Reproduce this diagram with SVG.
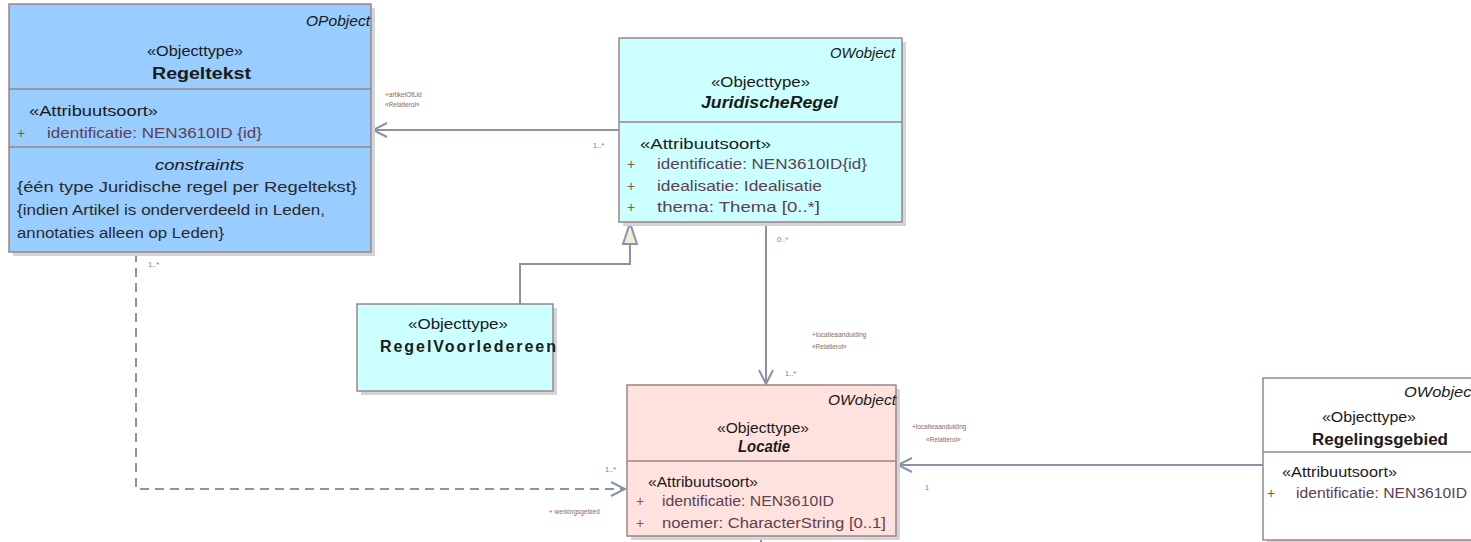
<svg xmlns="http://www.w3.org/2000/svg" width="1471" height="542" viewBox="0 0 1471 542">
<style>
text{font-family:"Liberation Sans",Arial,sans-serif;fill:#1a1a1a}
.box{stroke:#9b8585;stroke-width:1.5}
.shadow{fill:#d4d4d4}
.div{stroke:#9b8585;stroke-width:1.5}
.st{font-size:14px}
.nm{font-size:16px;font-weight:bold}
.tag{font-size:14px;font-style:italic}
.at{font-size:14px;fill:#5c4150}
.pl{font-size:14px;fill:#8a5a3a}
.ct{font-size:14px;fill:#2a2a2a}
.con{stroke:#8b93a8;stroke-width:2;fill:none}
.lbl{font-size:6.5px;fill:#8a6a5a}
.mul{font-size:7.5px;fill:#b07050}
</style>
<g id="connectors">
<line class="con" x1="619" y1="130" x2="373" y2="130"/>
<polyline class="con" points="387,123 373,130 387,137"/>
<polyline class="con" points="520,304 520,264 630,264 630,244"/>
<polygon points="630,223 623,244 637,244" fill="#f5ead8" stroke="#8b93a8" stroke-width="2"/>
<line class="con" x1="766" y1="222" x2="766" y2="384"/>
<polyline class="con" points="759,370 766,384 773,370"/>
<line class="con" x1="1263" y1="465" x2="898" y2="465"/>
<polyline class="con" points="912,458 898,465 912,472"/>
<polyline class="con" points="136,253 136,489 625,489" stroke-dasharray="9,6"/>
<polyline class="con" points="611,482 625,489 611,496"/>
<line class="con" x1="761" y1="536" x2="761" y2="542"/>
<text class="lbl" x="385" y="97">+artikelOfLid</text>
<text class="lbl" x="385" y="107">«Relatierol»</text>
<text class="mul" x="593" y="148">1..*</text>
<text class="mul" x="777" y="242">0..*</text>
<text class="lbl" x="812" y="337">+locatieaanduiding</text>
<text class="lbl" x="812" y="349">«Relatierol»</text>
<text class="mul" x="785" y="376">1..*</text>
<text class="lbl" x="912" y="429">+locatieaanduiding</text>
<text class="lbl" x="926" y="442">«Relatierol»</text>
<text class="mul" x="925" y="490">1</text>
<text class="mul" x="148" y="267">1..*</text>
<text class="mul" x="605" y="472">1..*</text>
<text class="lbl" x="549" y="514">+ werkingsgebied</text>
</g>
<g id="Regeltekst">
<rect class="shadow" x="13" y="8" width="362" height="248"/>
<rect class="box" x="9" y="4" width="362" height="248" fill="#99ccff"/>
<line class="div" x1="9" y1="89" x2="371" y2="89"/>
<line class="div" x1="9" y1="147" x2="371" y2="147"/>
<text class="tag" x="306" y="26" textLength="64" lengthAdjust="spacingAndGlyphs">OPobject</text>
<text class="st" x="147" y="56" textLength="96" lengthAdjust="spacingAndGlyphs">«Objecttype»</text>
<text class="nm" x="152" y="79" textLength="99" lengthAdjust="spacingAndGlyphs">Regeltekst</text>
<text class="st" x="29" y="116" textLength="129" lengthAdjust="spacingAndGlyphs">«Attribuutsoort»</text>
<text class="pl" x="17" y="138">+</text>
<text class="at" x="47" y="138" textLength="215" lengthAdjust="spacingAndGlyphs">identificatie: NEN3610ID {id}</text>
<text class="tag" x="155" y="170" textLength="89" lengthAdjust="spacingAndGlyphs">constraints</text>
<text class="ct" x="17" y="192" textLength="340" lengthAdjust="spacingAndGlyphs">{één type Juridische regel per Regeltekst}</text>
<text class="ct" x="17" y="215" textLength="308" lengthAdjust="spacingAndGlyphs">{indien Artikel is onderverdeeld in Leden,</text>
<text class="ct" x="17" y="238" textLength="207" lengthAdjust="spacingAndGlyphs">annotaties alleen op Leden}</text>
</g>
<g id="JuridischeRegel">
<rect class="shadow" x="623" y="42" width="283" height="184"/>
<rect class="box" x="619" y="38" width="283" height="184" fill="#ccffff"/>
<line class="div" x1="619" y1="122" x2="902" y2="122"/>
<text class="tag" x="830" y="58" textLength="65" lengthAdjust="spacingAndGlyphs">OWobject</text>
<text class="st" x="711" y="87" textLength="99" lengthAdjust="spacingAndGlyphs">«Objecttype»</text>
<text class="nm" x="701" y="108" font-style="italic" textLength="137" lengthAdjust="spacingAndGlyphs">JuridischeRegel</text>
<text class="st" x="640" y="149" textLength="131" lengthAdjust="spacingAndGlyphs">«Attribuutsoort»</text>
<text class="pl" x="627" y="169">+</text>
<text class="at" x="657" y="169" textLength="210" lengthAdjust="spacingAndGlyphs">identificatie: NEN3610ID{id}</text>
<text class="pl" x="627" y="191">+</text>
<text class="at" x="657" y="191" textLength="165" lengthAdjust="spacingAndGlyphs">idealisatie: Idealisatie</text>
<text class="pl" x="627" y="212">+</text>
<text class="at" x="657" y="212" textLength="163" lengthAdjust="spacingAndGlyphs">thema: Thema [0..*]</text>
</g>
<g id="RegelVoorledereen">
<rect class="shadow" x="361" y="308" width="196" height="87"/>
<rect class="box" x="357" y="304" width="196" height="87" fill="#ccffff"/>
<text class="st" x="408" y="329" textLength="100" lengthAdjust="spacingAndGlyphs">«Objecttype»</text>
<text class="nm" x="380" y="352" textLength="176" lengthAdjust="spacing">RegelVoorledereen</text>
</g>
<g id="Locatie">
<rect class="shadow" x="631" y="389" width="269" height="151"/>
<rect class="box" x="627" y="385" width="269" height="151" fill="#ffe2dd"/>
<line class="div" x1="627" y1="461" x2="896" y2="461"/>
<text class="tag" x="828" y="405" textLength="68" lengthAdjust="spacingAndGlyphs">OWobject</text>
<text class="st" x="717" y="433" textLength="92" lengthAdjust="spacingAndGlyphs">«Objecttype»</text>
<text class="nm" x="738" y="452" font-style="italic" textLength="52" lengthAdjust="spacingAndGlyphs">Locatie</text>
<text class="st" x="648" y="487" textLength="110" lengthAdjust="spacingAndGlyphs">«Attribuutsoort»</text>
<text class="pl" x="636" y="506">+</text>
<text class="at" x="662" y="506" textLength="172" lengthAdjust="spacingAndGlyphs">identificatie: NEN3610ID</text>
<text class="pl" x="636" y="528">+</text>
<text class="at" x="662" y="528" textLength="224" lengthAdjust="spacingAndGlyphs">noemer: CharacterString [0..1]</text>
</g>
<g id="Regelingsgebied">
<rect class="shadow" x="1267" y="382" width="230" height="162"/>
<rect class="box" x="1263" y="378" width="230" height="162" fill="#ffffff"/>
<line class="div" x1="1263" y1="452" x2="1493" y2="452"/>
<text class="tag" x="1404" y="397" textLength="72" lengthAdjust="spacingAndGlyphs">OWobject</text>
<text class="st" x="1322" y="422" textLength="94" lengthAdjust="spacingAndGlyphs">«Objecttype»</text>
<text class="nm" x="1312" y="445" textLength="136" lengthAdjust="spacingAndGlyphs">Regelingsgebied</text>
<text class="st" x="1282" y="477" textLength="115" lengthAdjust="spacingAndGlyphs">«Attribuutsoort»</text>
<text class="pl" x="1267" y="498">+</text>
<text class="at" x="1296" y="498" textLength="171" lengthAdjust="spacingAndGlyphs">identificatie: NEN3610ID</text>
</g>
</svg>
